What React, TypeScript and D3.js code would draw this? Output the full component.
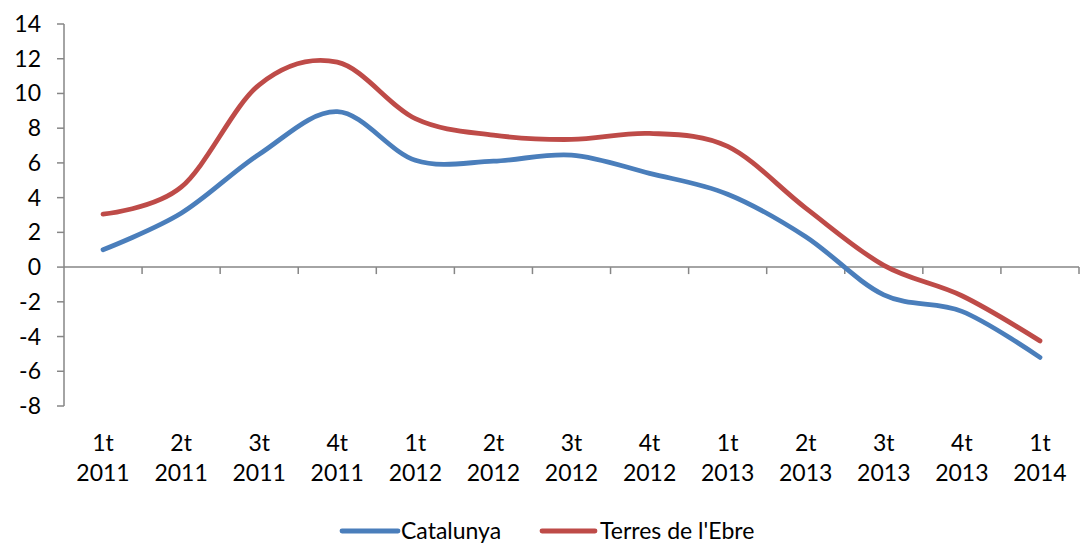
import React from "react";
import * as d3 from "d3";

const quarters = ["1t", "2t", "3t", "4t", "1t", "2t", "3t", "4t", "1t", "2t", "3t", "4t", "1t"];
const years = ["2011", "2011", "2011", "2011", "2012", "2012", "2012", "2012", "2013", "2013", "2013", "2013", "2014"];
const categories = quarters.map((q, i) => `${q} ${years[i]}`);
const catalunya = [1.0, 3.1, 6.5, 8.95, 6.15, 6.1, 6.45, 5.4, 4.2, 1.75, -1.6, -2.55, -5.2];
const terresEbre = [3.05, 4.6, 10.5, 11.8, 8.55, 7.6, 7.35, 7.7, 6.95, 3.4, 0.1, -1.65, -4.25];
const yTicks = [14, 12, 10, 8, 6, 4, 2, 0, -2, -4, -6, -8];
const seriesNames = ["Catalunya", "Terres de l'Ebre"];
const seriesColors = ["#4A7EBB", "#BE4B48"];

const W = 1080;
const H = 543;
const left = 64;
const right = 1079;
const top = 24;
const bottom = 406;
const font = "Lato, 'Open Sans', sans-serif";
const fs = 23;

export default function App() {
  const x = d3.scaleBand<string>().domain(categories).range([left, right]).padding(0);
  const y = d3.scaleLinear().domain([-8, 14]).range([bottom, top]);
  const cx = (i: number) => (x(categories[i]) as number) + x.bandwidth() / 2;
  const line = d3
    .line<number>()
    .x((_, i) => cx(i))
    .y((d) => y(d))
    .curve(d3.curveCardinal.tension(0));
  const series = [catalunya, terresEbre];
  const bounds = categories.map((c) => x(c) as number).concat([right]);
  const axisColor = "#868686";

  return (
    <svg width={W} height={H} style={{ position: "absolute", left: 0, top: 0, background: "#fff" }}>
      <line x1={left} x2={left} y1={top} y2={bottom} stroke={axisColor} strokeWidth={1.5} />
      {yTicks.map((t) => (
        <g key={t}>
          <line x1={left - 7} x2={left} y1={y(t)} y2={y(t)} stroke={axisColor} strokeWidth={1.5} />
          <text x={41} y={y(t) + 8} textAnchor="end" fontFamily={font} fontSize={fs} fill="#000">
            {t}
          </text>
        </g>
      ))}
      <line x1={left} x2={right} y1={y(0)} y2={y(0)} stroke={axisColor} strokeWidth={1.5} />
      {bounds.slice(1).map((b, i) => (
        <line key={i} x1={b} x2={b} y1={y(0)} y2={y(0) + 7} stroke={axisColor} strokeWidth={1.5} />
      ))}
      {categories.map((c, i) => (
        <text key={c} x={cx(i)} textAnchor="middle" fontFamily={font} fontSize={fs} fill="#000">
          <tspan x={cx(i)} y={451}>{quarters[i]}</tspan>
          <tspan x={cx(i)} y={481}>{years[i]}</tspan>
        </text>
      ))}
      {series.map((s, k) => (
        <path key={k} d={line(s) || ""} fill="none" stroke={seriesColors[k]} strokeWidth={4.8} strokeLinecap="round" strokeLinejoin="round" />
      ))}
      {[
        { x1: 342, x2: 398, tx: 401 },
        { x1: 542, x2: 595, tx: 600 },
      ].map((l, k) => (
        <g key={k}>
          <line x1={l.x1} x2={l.x2} y1={531} y2={531} stroke={seriesColors[k]} strokeWidth={4.8} strokeLinecap="round" />
          <text x={l.tx} y={539} fontFamily={font} fontSize={fs} fill="#000">
            {seriesNames[k]}
          </text>
        </g>
      ))}
    </svg>
  );
}
